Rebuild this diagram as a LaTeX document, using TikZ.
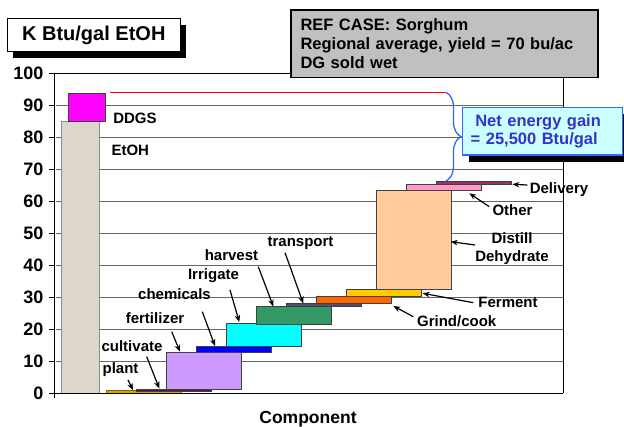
\documentclass[tikz,border=0pt]{standalone}
\usepackage{fontspec}
\setmainfont{Liberation Sans}
\usetikzlibrary{arrows.meta,decorations.pathreplacing,shadows}
\definecolor{etohc}{HTML}{DDD6CA}
\definecolor{ddgsc}{HTML}{FF00FF}
\definecolor{plantc}{HTML}{D9A300}
\definecolor{cultc}{HTML}{4D1A33}
\definecolor{fertc}{HTML}{CC99FF}
\definecolor{chemc}{HTML}{0000FF}
\definecolor{irrc}{HTML}{00FFFF}
\definecolor{harvc}{HTML}{339966}
\definecolor{transc}{HTML}{4D4D70}
\definecolor{grindc}{HTML}{FF6600}
\definecolor{fermc}{HTML}{FFCC00}
\definecolor{distc}{HTML}{FFCC99}
\definecolor{otherc}{HTML}{FF99CC}
\definecolor{delivc}{HTML}{993366}
\definecolor{refgray}{HTML}{C0C0C0}
\definecolor{netblue}{HTML}{3366FF}
\definecolor{nettext}{HTML}{3333CC}
\definecolor{netfill}{HTML}{CCFFFF}
\definecolor{redline}{HTML}{FF0000}

\begin{document}
\begin{tikzpicture}[x=1pt,y=-1pt,
    bar/.style={draw=black!75,line width=.8pt},
    lbl/.style={font=\fontsize{15}{17.3}\selectfont\bfseries,inner sep=1pt},
    ytick/.style={font=\fontsize{18}{20}\selectfont\bfseries,inner sep=0pt,anchor=east},
    pointer/.style={-{Stealth[length=7pt,width=5.5pt]},line width=1.2pt},
    grid line/.style={black!60,line width=.9pt},
    boxshadow/.style={drop shadow={shadow xshift=6pt,shadow yshift=-6.5pt,fill=black,opacity=1}}]
        \useasboundingbox (0,0) rectangle (624,427);
        \foreach \v in {10,20,...,90}
            \draw[grid line] (56,{393-3.2*\v}) -- (563,{393-3.2*\v});
        \draw[line width=.9pt] (54,73) -- (563,73) -- (563,393);
        \draw[line width=.9pt] (54,73) -- (54,398);
        \foreach \v in {10,20,...,100}
            \draw[line width=.9pt] (49,{393-3.2*\v}) -- (54,{393-3.2*\v});
        \foreach \v in {0,10,...,100}
            \node[ytick] (y\v) at (43.5,{393-3.2*\v}) {\v};

        \filldraw[bar,draw=black!45,fill=etohc] (61,393) rectangle (99,121);
        \filldraw[bar,fill=ddgsc] (68,121) rectangle (105,93.3);
        \filldraw[bar,draw=plantc!60!black,line width=.6pt,fill=plantc] (106.5,393) rectangle (181.5,390);
        \filldraw[bar,fill=cultc] (136.5,391) rectangle (211.5,389);
        \filldraw[bar,fill=fertc] (166.5,389.3) rectangle (241.5,352);
        \filldraw[bar,fill=chemc] (196.5,352) rectangle (271.5,346);
        \filldraw[bar,fill=irrc] (226.5,346) rectangle (301.5,323.5);
        \filldraw[bar,fill=harvc] (256.5,324) rectangle (331.5,306);
        \filldraw[bar,fill=transc] (286.5,306) rectangle (361.5,303.5);
        \filldraw[bar,fill=grindc] (316.5,303.5) rectangle (391.5,296.5);
        \filldraw[bar,fill=fermc] (346.5,296.5) rectangle (421.5,289.5);
        \filldraw[bar,fill=distc] (376.5,289.5) rectangle (451,190.5);
        \filldraw[bar,fill=otherc] (406,190.5) rectangle (481,184.5);
        \filldraw[bar,fill=delivc] (436,184.5) rectangle (511,181);
        \draw[line width=1.4pt] (49,393.5) -- (563,393.5);

        \coordinate (gaintop) at (446,92.3);
        \coordinate (gainbot) at (446,181);
        \draw[redline,line width=1.3pt] (110,92.3) -- (gaintop);
        \draw[netblue,line width=1.3pt,decorate,decoration={brace,amplitude=15pt}] (gaintop) -- (gainbot);

        \node[draw,fill=white,line width=1pt,minimum width=173pt,minimum height=33.5pt,
            font=\fontsize{20}{24}\selectfont\bfseries,boxshadow] (title) at (93.8,35) {K Btu/gal EtOH};
        \node[draw,fill=refgray,line width=1.2pt,minimum width=307pt,minimum height=67.7pt,
            text width=288pt,inner xsep=9.5pt,align=left,
            font=\fontsize{16.5}{18.8}\selectfont\bfseries] (refcase) at (444.5,43.9)
            {REF CASE: Sorghum\\Regional average, yield = 70 bu/ac\\DG sold wet};
        \node[draw=netblue,fill=netfill,text=nettext,line width=1.2pt,minimum width=159.6pt,
            minimum height=47.7pt,text width=143.6pt,inner xsep=8pt,align=left,
            font=\fontsize{16.5}{18.7}\selectfont\bfseries,boxshadow] (gain) at (542.5,131.2)
            {\hspace*{4.6pt}Net energy gain\\= 25,500 Btu/gal};

        \node[lbl] (lddgs) at (135,118) {DDGS};
        \node[lbl] (letoh) at (130.3,150.7) {EtOH};
        \node[lbl] (lplant) at (120.5,370) {plant};
        \node[lbl] (lcult) at (132,346) {cultivate};
        \node[lbl] (lfert) at (155,318) {fertilizer};
        \node[lbl] (lchem) at (174.5,294.5) {chemicals};
        \node[lbl] (lirr) at (213.5,276) {Irrigate};
        \node[lbl] (lharv) at (231.5,255) {harvest};
        \node[lbl] (ltrans) at (300.5,243.3) {transport};
        \node[lbl] (lgrind) at (456.7,321.7) {Grind/cook};
        \node[lbl] (lferm) at (508,302.7) {Ferment};
        \node[lbl,align=center] (ldist) at (512,248.7) {Distill\\Dehydrate};
        \node[lbl] (lother) at (512.5,210) {Other};
        \node[lbl] (ldeliv) at (559,189.3) {Delivery};
        \node[font=\fontsize{17.5}{20}\selectfont\bfseries] (xlabel) at (308,419.3) {Component};

        \coordinate (cplant) at (133,390);
        \coordinate (ccult) at (159.3,388.5);
        \coordinate (cfert) at (180,351.7);
        \coordinate (cchem) at (215,346);
        \coordinate (cirr) at (239.3,322);
        \coordinate (charv) at (273.3,306.5);
        \coordinate (ctrans) at (303.3,303.5);
        \coordinate (cgrind) at (393.3,306);
        \coordinate (cferm) at (422.7,293.3);
        \coordinate (cdist) at (450.7,241.7);
        \coordinate (cother) at (469.3,193.3);
        \coordinate (cdeliv) at (512.3,184.3);

        \draw[pointer] ([shift={(7.5,10)}]lplant.center) -- (cplant);
        \draw[pointer] ([shift={(14.7,10.7)}]lcult.center) -- (ccult);
        \draw[pointer] ([shift={(16.7,13.7)}]lfert.center) -- (cfert);
        \draw[pointer] ([shift={(27.8,17.2)}]lchem.center) -- (cchem);
        \draw[pointer] ([shift={(16.5,14)}]lirr.center) -- (cirr);
        \draw[pointer] ([shift={(26.8,11.7)}]lharv.center) -- (charv);
        \draw[pointer] ([shift={(-15.5,9.4)}]ltrans.center) -- (ctrans);
        \draw[pointer] ([shift={(-43.4,-5)}]lgrind.center) -- (cgrind);
        \draw[pointer] ([shift={(-34.7,0)}]lferm.center) -- (cferm);
        \draw[pointer] ([shift={(-37,-3.7)}]ldist.center) -- (cdist);
        \draw[pointer] ([shift={(-23.2,-3.3)}]lother.center) -- (cother);
        \draw[pointer] ([shift={(-31.7,-4.3)}]ldeliv.center) -- (cdeliv);
    \end{tikzpicture}
\end{document}
